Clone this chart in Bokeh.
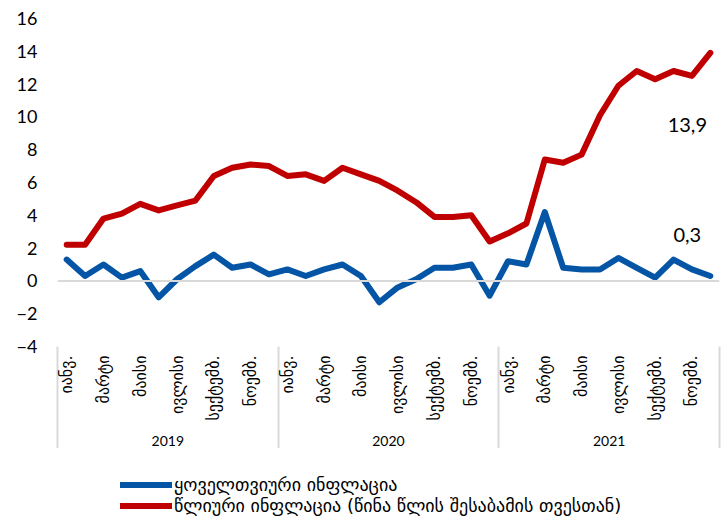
import math
from bokeh.plotting import figure
from bokeh.layouts import column
from bokeh.models import (LinearAxis, FixedTicker, Span, Legend, LegendItem,
                          ColumnDataSource, Range1d)
from bokeh.core.properties import value
from bokeh.embed import file_html
from bokeh.resources import INLINE

# ---------------- data ----------------
years = ["2019", "2020", "2021"]
month_labels = ["იანვ.", "მარტი", "მაისი", "ივლისი", "სექტემბ.", "ნოემბ."]
monthly = [1.3, 0.3, 1.0, 0.2, 0.6, -1.0, 0.1, 0.9, 1.6, 0.8, 1.0, 0.4,
           0.7, 0.3, 0.7, 1.0, 0.3, -1.3, -0.4, 0.1, 0.8, 0.8, 1.0, -0.9,
           1.2, 1.0, 4.2, 0.8, 0.7, 0.7, 1.4, 0.8, 0.2, 1.3, 0.7, 0.3]
annual = [2.2, 2.2, 3.8, 4.1, 4.7, 4.3, 4.6, 4.9, 6.4, 6.9, 7.1, 7.0,
          6.4, 6.5, 6.1, 6.9, 6.5, 6.1, 5.5, 4.8, 3.9, 3.9, 4.0, 2.4,
          2.9, 3.5, 7.4, 7.2, 7.7, 10.1, 11.9, 12.8, 12.3, 12.8, 12.5, 13.9]
series_names = ["ყოველთვიური ინფლაცია",
                "წლიური ინფლაცია (წინა წლის შესაბამის თვესთან)"]
y_ticks = [-4, -2, 0, 2, 4, 6, 8, 10, 12, 14, 16]

BLUE = "#0455a6"
RED = "#c00000"
GEO_FONT = "DejaVu Sans"
NUM_FONT = "Lato"

n = len(monthly)
x = list(range(1, n + 1))
src = ColumnDataSource(dict(x=x, monthly=monthly, annual=annual))

p = figure(frame_width=662, frame_height=328, output_backend="svg", toolbar_location=None,
           x_range=Range1d(0.5, n + 0.5), y_range=Range1d(y_ticks[0], y_ticks[-1]),
           x_axis_location=None,
           min_border_top=18, min_border_left=57, min_border_right=9,
           min_border_bottom=0)
p.outline_line_color = None
p.grid.visible = False

# y axis
p.yaxis.ticker = FixedTicker(ticks=y_ticks)
p.yaxis.axis_line_color = None
p.yaxis.major_tick_line_color = None
p.yaxis.minor_tick_line_color = None
p.yaxis.major_tick_out = 0
p.yaxis.major_tick_in = 0
p.yaxis.major_label_standoff = 20
p.yaxis.major_label_text_font = NUM_FONT
p.yaxis.major_label_text_font_size = "18px"
p.yaxis.major_label_text_color = "black"

# zero line
p.add_layout(Span(location=0, dimension="width", line_color="#d9d9d9", line_width=2))

# series
r_m = p.line("x", "monthly", source=src, line_color=BLUE, line_width=6,
             line_join="round", line_cap="round")
r_a = p.line("x", "annual", source=src, line_color=RED, line_width=6,
             line_join="round", line_cap="round")

# end-value labels
def fmt(v):
    return f"{v:.1f}".replace(".", ",")

p.text(x=[x[-1]], y=[annual[-1]], text=[fmt(annual[-1])], x_offset=-23, y_offset=72,
       text_align="center", text_baseline="middle", text_font=value(NUM_FONT),
       text_font_size="20px", text_color="black")
p.text(x=[x[-1]], y=[monthly[-1]], text=[fmt(monthly[-1])], x_offset=-23, y_offset=-41,
       text_align="center", text_baseline="middle", text_font=value(NUM_FONT),
       text_font_size="20px", text_color="black")

# month axis (every other month labelled, year separators as long minor ticks)
SEP_LEN = 115
month_ticks = [i for i in x if (i - 1) % 2 == 0]
month_over = {t: month_labels[((t - 1) % 12) // 2] for t in month_ticks}
seps = [0.5 + 12 * k for k in range(len(years) + 1)]
month_axis = LinearAxis(ticker=FixedTicker(ticks=month_ticks, minor_ticks=seps),
                        major_label_overrides=month_over,
                        major_label_orientation=math.pi / 2,
                        axis_line_color=None,
                        major_tick_line_color=None, major_tick_out=0, major_tick_in=0,
                        minor_tick_line_color="#d9d9d9", minor_tick_line_width=2,
                        minor_tick_out=SEP_LEN, minor_tick_in=0,
                        major_label_standoff=9 - SEP_LEN,
                        major_label_text_font=GEO_FONT,
                        major_label_text_font_size="16px",
                        major_label_text_color="black")
p.add_layout(month_axis, "below")

year_ticks = [6.5 + 12 * k for k in range(len(years))]
year_axis = LinearAxis(ticker=FixedTicker(ticks=year_ticks),
                       major_label_overrides={t: y for t, y in zip(year_ticks, years)},
                       axis_line_color=None,
                       major_tick_line_color=None, major_tick_out=0, major_tick_in=0,
                       minor_tick_line_color=None,
                       major_label_standoff=12,
                       major_label_text_font=NUM_FONT,
                       major_label_text_font_size="14px",
                       major_label_text_color="black")
p.add_layout(year_axis, "below")

# ---------------- legend strip ----------------
lg = figure(frame_width=662, height=69, output_backend="svg", toolbar_location=None,
            x_range=Range1d(-200, -100), y_range=Range1d(-200, -100),
            x_axis_location=None, y_axis_location=None,
            min_border_left=57, min_border_right=9, min_border_top=0, min_border_bottom=0)
lg.outline_line_color = None
lg.grid.visible = False
l_m = lg.line("x", "monthly", source=src, line_color=BLUE, line_width=6, line_cap="round")
l_a = lg.line("x", "annual", source=src, line_color=RED, line_width=6, line_cap="round")
legend = Legend(items=[LegendItem(label=series_names[0], renderers=[l_m]),
                       LegendItem(label=series_names[1], renderers=[l_a])],
                location=(63, 1), orientation="vertical",
                glyph_width=52, glyph_height=17, label_height=17,
                label_standoff=2, spacing=0, padding=0, margin=0,
                border_line_color=None, background_fill_alpha=0,
                label_text_font=GEO_FONT, label_text_font_size="18px",
                label_text_color="black", label_text_baseline="middle")
lg.add_layout(legend, "center")

open("out.html", "w").write(file_html(column(p, lg, spacing=0), INLINE))
